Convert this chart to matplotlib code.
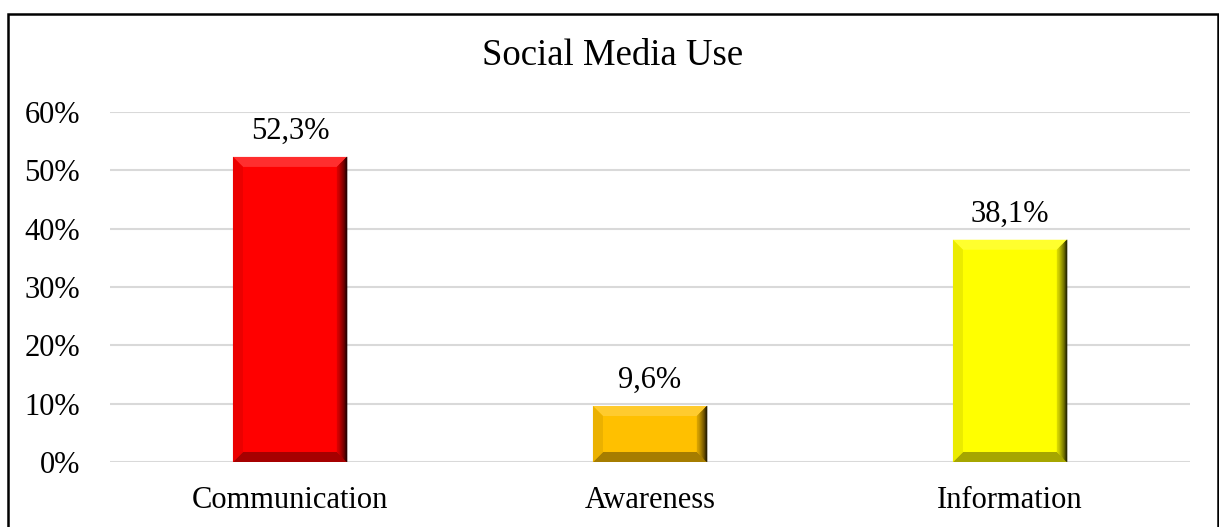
import numpy as np
import matplotlib.pyplot as plt
from matplotlib.patches import Polygon, Rectangle
from matplotlib.colors import to_rgb

categories = ['Communication', 'Awareness', 'Information']
values = [52.3, 9.6, 38.1]
bar_colors = ['#ff0000', '#ffc000', '#ffff00']
yticks = [0, 10, 20, 30, 40, 50, 60]
title = 'Social Media Use'

plt.rcParams['font.family'] = ['Liberation Serif', 'DejaVu Serif']

W, H = 1219, 527
fig = plt.figure(figsize=(W / 100, H / 100), dpi=100)
ax = fig.add_axes([110 / W, 1 - 462 / H, 1080 / W, 350 / H])

x = np.arange(len(categories))
bars = ax.bar(x, values, width=0.317, color=bar_colors, zorder=3)

ax.set_xlim(-0.5, len(categories) - 0.5)
ax.set_ylim(0, 60)
ax.set_yticks(yticks)
ax.set_yticklabels(['%d%%' % t for t in yticks])
ax.set_xticks(x)
ax.set_xticklabels(categories)
ax.tick_params(axis='y', length=0, pad=21.5, labelsize=22)
ax.tick_params(axis='x', length=0, pad=17, labelsize=22)
ax.grid(axis='y', color='#d9d9d9', linewidth=1.5, zorder=0)
for s in ax.spines.values():
    s.set_visible(False)


def mix(c, other, t):
    c = np.array(to_rgb(c))
    o = np.array(to_rgb(other))
    return tuple(c * (1 - t) + o * t)


# bevel effect, built from each bar's own geometry
inv = ax.transData.inverted()
bev = 10
for b, c in zip(bars, bar_colors):
    (x0, y0) = ax.transData.transform((b.get_x(), 0))
    (x1, y1) = ax.transData.transform((b.get_x() + b.get_width(), b.get_height()))
    bv = min(bev, (y1 - y0) / 2.5)
    ix0, ix1, iy0, iy1 = x0 + bv, x1 - bv, y0 + bv, y1 - bv
    polys = [
        ([(x0, y1), (x1, y1), (ix1, iy1), (ix0, iy1)], mix(c, 'white', 0.18)),
        ([(x0, y0), (x1, y0), (ix1, iy0), (ix0, iy0)], mix(c, 'black', 0.35)),
        ([(x0, y0), (x0, y1), (ix0, iy1), (ix0, iy0)], mix(c, 'black', 0.08)),
    ]
    for pts, col in polys:
        ax.add_patch(Polygon(inv.transform(pts), closed=True, facecolor=col,
                             edgecolor='none', zorder=4))
    n = 8
    for k in range(n):
        a0 = ix1 + (x1 - ix1) * k / n
        a1 = ix1 + (x1 - ix1) * (k + 1) / n
        f0 = k / n
        f1 = (k + 1) / n
        pts = [(a0, iy0 - bv * f0), (a1, iy0 - bv * f1),
               (a1, iy1 + bv * f1), (a0, iy1 + bv * f0)]
        col = mix(c, 'black', 0.15 + 0.75 * ((k + 0.5) / n) ** 1.5)
        ax.add_patch(Polygon(inv.transform(pts), closed=True, facecolor=col,
                             edgecolor=col, linewidth=0.3, zorder=4))

for xi, v in zip(x, values):
    ax.annotate(('%.1f%%' % v).replace('.', ','), (xi, v), xytext=(0, 8),
                textcoords='offset points', ha='center', va='bottom', fontsize=22)

fig.text(612.5 / W, 1 - 56 / H, title, ha='center', va='center', fontsize=26.5)

fig.patches.append(Rectangle((7.5 / W, -0.1), (1217.5 - 7.5) / W, 1.1 - 13.5 / H,
                             transform=fig.transFigure, fill=False,
                             edgecolor='black', linewidth=1.8))

fig.savefig('out.png', dpi=100)
